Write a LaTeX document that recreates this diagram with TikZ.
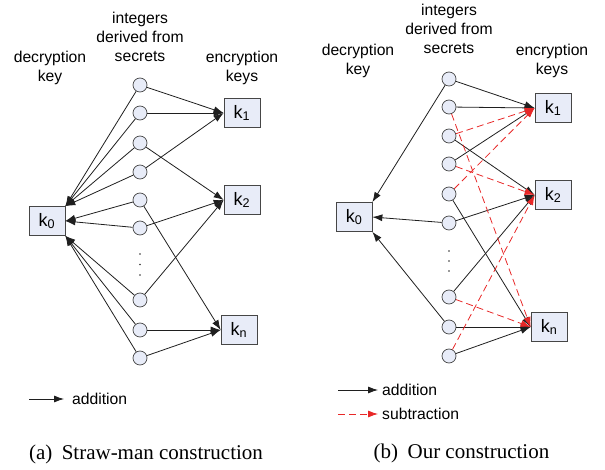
\documentclass[tikz,border=0pt]{standalone}
\usepackage{fontspec}
\setmainfont{Liberation Sans}
\newfontfamily\capfont{Liberation Serif}
\usetikzlibrary{arrows.meta}
\definecolor{nodefill}{RGB}{232,236,248}
\definecolor{edgegray}{RGB}{70,70,70}
\definecolor{subred}{RGB}{232,40,40}
\begin{document}
\begin{tikzpicture}[x=1pt,y=-1pt,
  secret/.style={circle,draw=edgegray,fill=nodefill,minimum size=14pt,inner sep=0pt,line width=0.7pt},
  keybox/.style={draw=edgegray,fill=nodefill,minimum width=36pt,minimum height=29pt,inner sep=0pt,line width=0.7pt,font=\fontsize{18}{20}\selectfont},
  lbl/.style={align=center,inner sep=0pt,font=\fontsize{15.7}{19}\selectfont},
  captext/.style={inner sep=0pt,font=\capfont\fontsize{21}{25}\selectfont},
  add/.style={draw=black!88,line width=0.8pt,-{Latex[length=10pt,width=7pt]}},
  sub/.style={draw=subred,line width=0.8pt,dash pattern=on 7pt off 4pt,-{Latex[length=10pt,width=7pt]}},
  vdots/.style={circle,fill=black!80,inner sep=0pt,minimum size=1.6pt}]
\useasboundingbox (0,0) rectangle (605,470);

% ---------------- left panel ----------------
\node[lbl] (decL) at (50,67.5) {decryption\\key};
\node[lbl] (intL) at (140,37) {integers\\derived from\\secrets};
\node[lbl] (encL) at (242,67.5) {encryption\\keys};

\node[keybox] (k0L) at (47,221) {k\textsubscript{0}};
\node[keybox] (k1L) at (242,113) {k\textsubscript{1}};
\node[keybox] (k2L) at (242,200) {k\textsubscript{2}};
\node[keybox] (knL) at (239,330) {k\textsubscript{n}};

\foreach \n/\y in {1/85,2/113,3/143,4/172,5/200,6/228,7/300,8/330,9/358}
  \node[secret] (L\n) at (140,\y) {};
\foreach \n/\y in {1/254,2/264.5,3/275}
  \node[vdots] (dL\n) at (140,\y) {};

\foreach \s/\t in {L1/k1L,L2/k1L,L3/k2L,L4/k1L,L5/knL,L6/k2L,L7/k2L,L8/knL,L9/knL}
  \draw[add] (\s) -- (\t.west);
\foreach \s in {L1,L2,L3,L4}
  \draw[add] (\s) -- (k0L.north east);
\foreach \s in {L5,L6}
  \draw[add] (\s) -- (k0L.east);
\foreach \s in {L7,L8,L9}
  \draw[add] (\s) -- (k0L.south east);

\coordinate (la1) at (29,399);
\coordinate (la2) at (64,399);
\draw[add] (la1) -- (la2);
\node[lbl,anchor=west] (addL) at (72,399) {addition};

\node[captext] (capA) at (146,454) {(a)\hspace{0.45em}Straw-man construction};

% ---------------- right panel ----------------
\node[lbl] (decR) at (358,60.5) {decryption\\key};
\node[lbl] (intR) at (449,29) {integers\\derived from\\secrets};
\node[lbl] (encR) at (552,60.5) {encryption\\keys};

\node[keybox] (k0R) at (354,217) {k\textsubscript{0}};
\node[keybox] (k1R) at (553,108) {k\textsubscript{1}};
\node[keybox] (k2R) at (553,195) {k\textsubscript{2}};
\node[keybox] (knR) at (549,327) {k\textsubscript{n}};

\foreach \n/\y in {1/79,2/107,3/136,4/164,5/194,6/223,7/297,8/327,9/356}
  \node[secret] (R\n) at (449,\y) {};
\foreach \n/\y in {1/251,2/261,3/271}
  \node[vdots] (dR\n) at (449,\y) {};

\foreach \s/\t in {R1/k1R,R2/k1R,R3/k2R,R4/k1R,R5/knR,R6/k2R,R7/k2R,R8/knR,R9/knR}
  \draw[add] (\s) -- (\t.west);
\draw[add] (R1) -- (k0R.north east);
\draw[add] (R6) -- (k0R.east);
\draw[add] (R8) -- (k0R.south east);
\foreach \s/\t in {R2/knR,R3/k1R,R4/k2R,R5/k1R,R7/knR,R9/k2R}
  \draw[sub] (\s) -- (\t.west);

\coordinate (ra1) at (338,390);
\coordinate (ra2) at (378,390);
\draw[add] (ra1) -- (ra2);
\node[lbl,anchor=west] (addR) at (382,390) {addition};
\coordinate (rs1) at (338,414);
\coordinate (rs2) at (378,414);
\draw[sub] (rs1) -- (rs2);
\node[lbl,anchor=west] (subR) at (382,414) {subtraction};

\node[captext] (capB) at (461.5,453) {(b)\hspace{0.45em}Our construction};
\end{tikzpicture}
\end{document}
